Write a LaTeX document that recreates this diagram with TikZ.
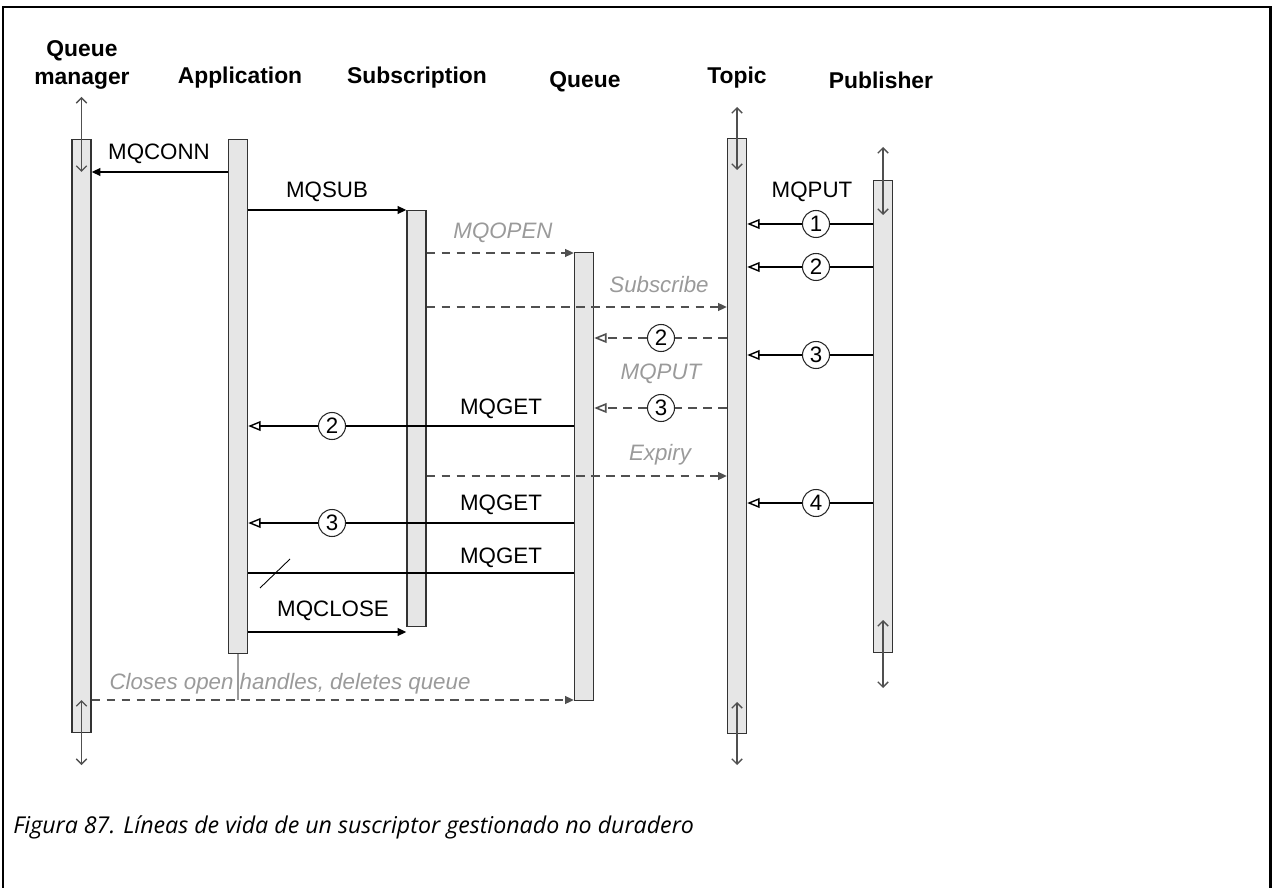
\documentclass[tikz,border=0pt]{standalone}
\usepackage{fontspec}
\setmainfont{Liberation Sans}
\newfontfamily\captionfont{Open Sans}
\usetikzlibrary{positioning}
\usetikzlibrary{arrows.meta}

\definecolor{barfill}{HTML}{E6E6E6}
\definecolor{linegray}{HTML}{505050}
\definecolor{textgray}{HTML}{9A9A9A}

\begin{document}
\begin{tikzpicture}[x=0.02cm, y=-0.02cm,
	barnode/.style={rectangle, draw=black!80, fill=barfill, line width=0.8pt, minimum width=0.38cm, inner sep=0pt, anchor=north},
	headnode/.style={font=\fontsize{13}{16}\selectfont\bfseries, anchor=base, inner sep=0pt, align=center},
	msgnode/.style={font=\fontsize{12.7}{15}\selectfont, anchor=base, inner sep=0pt},
	greynode/.style={font=\fontsize{12.7}{15}\selectfont\itshape, anchor=base, inner sep=0pt, text=textgray},
	numnode/.style={circle, draw=black!85, fill=white, line width=0.6pt, minimum size=0.54cm, inner sep=0pt, font=\fontsize{12.7}{15}\selectfont},
	call/.style={line width=0.8pt, -{Triangle[length=5pt,width=4.5pt]}},
	reply/.style={line width=0.8pt, -{Triangle[open,fill=white,length=7pt,width=5.5pt]}},
	plain/.style={line width=0.8pt},
	async/.style={line width=0.9pt, draw=linegray, dash pattern=on 5pt off 3.5pt},
	lifearrow/.style={line width=0.75pt, draw=linegray, {Straight Barb[length=3pt,width=6pt]}-{Straight Barb[length=3pt,width=6pt]}},
	]
	\useasboundingbox (0,0) rectangle (1274,888);

	% Frame
	\draw[line width=1.7pt] (3,888) -- (3,7) -- (1270,7) -- (1270,888);

	% Headings
	\node[headnode, anchor=north]          (qm_head)      at (82, 40)    {Queue\\manager};
	\node[headnode]                        (app_head)     at (240, 84)   {Application};
	\node[headnode]                        (sub_head)     at (417, 84)   {Subscription};
	\node[headnode]                        (queue_head)   at (585, 88)   {Queue};
	\node[headnode]                        (topic_head)   at (737, 84)   {Topic};
	\node[headnode]                        (pub_head)     at (881, 89)   {Publisher};

	% Bars
	\node[barnode, minimum height=11.86cm] (qm_bar)       at (81.5, 139) {};
	\node[barnode, minimum height=10.28cm] (app_bar)      at (238, 139)  {};
	\node[barnode, minimum height=8.32cm]  (sub_bar)      at (416.5, 210) {};
	\node[barnode, minimum height=8.96cm]  (queue_bar)    at (584, 252)  {};
	\node[barnode, minimum height=11.9cm]  (topic_bar)    at (737, 138)  {};
	\node[barnode, minimum height=9.44cm]  (pub_bar)      at (883, 180)  {};

	% Lifeline ends
	\coordinate (qm_top_a)    at (81.5, 97);
	\coordinate (qm_top_b)    at (81.5, 172);
	\coordinate (qm_bot_a)    at (81.5, 700);
	\coordinate (qm_bot_b)    at (81.5, 765);
	\coordinate (topic_top_a) at (737, 107);
	\coordinate (topic_top_b) at (737, 170);
	\coordinate (topic_bot_a) at (737, 702);
	\coordinate (topic_bot_b) at (737, 765);
	\coordinate (pub_top_a)   at (883, 147);
	\coordinate (pub_top_b)   at (883, 215);
	\coordinate (pub_bot_a)   at (883, 620);
	\coordinate (pub_bot_b)   at (883, 688);

	\draw[lifearrow] (qm_top_a)    -- (qm_top_b);
	\draw[lifearrow] (qm_bot_a)    -- (qm_bot_b);
	\draw[lifearrow] (topic_top_a) -- (topic_top_b);
	\draw[lifearrow] (topic_bot_a) -- (topic_bot_b);
	\draw[lifearrow] (pub_top_a)   -- (pub_top_b);
	\draw[lifearrow] (pub_bot_a)   -- (pub_bot_b);

	% Rows
	\coordinate (row_conn)   at (0, 172);
	\coordinate (row_sub)    at (0, 210);
	\coordinate (row_open)   at (0, 253);
	\coordinate (row_subs)   at (0, 307);
	\coordinate (row_expiry) at (0, 476);
	\coordinate (row_get)    at (0, 573);
	\coordinate (row_close)  at (0, 632);
	\coordinate (row_end)    at (0, 700);

	% Labels
	\node[msgnode]  (mqconn_label)   at (159, 160) {MQCONN};
	\node[msgnode]  (mqsub_label)    at (327, 198) {MQSUB};
	\node[greynode] (mqopen_label)   at (503, 239) {MQOPEN};
	\node[msgnode]  (mqput_label)    at (812, 198) {MQPUT};
	\node[greynode] (subscr_label)   at (659, 293) {Subscribe};
	\node[greynode] (mqput2_label)   at (661, 379) {MQPUT};
	\node[msgnode]  (mqget_label)    at (501, 414) {MQGET};
	\node[greynode] (expiry_label)   at (660, 460) {Expiry};
	\node[msgnode]  (mqget2_label)   at (501, 510) {MQGET};
	\node[msgnode]  (mqget3_label)   at (501, 563) {MQGET};
	\node[msgnode]  (mqclose_label)  at (333, 616) {MQCLOSE};
	\node[greynode] (closes_label)   at (290, 689) {Closes open handles, deletes queue};

	% Numbers
	\node[numnode] (put_one)    at (816, 224) {1};
	\node[numnode] (put_two)    at (816, 267) {2};
	\node[numnode] (put_three)  at (816, 355) {3};
	\node[numnode] (put_four)   at (816, 503) {4};
	\node[numnode] (fwd_two)    at (661, 338) {2};
	\node[numnode] (fwd_three)  at (661, 408) {3};
	\node[numnode] (get_two)    at (332, 426) {2};
	\node[numnode] (get_three)  at (332, 523) {3};

	% Lines
	\draw[call]   (app_bar.west |- row_conn)    -- (qm_bar.east |- row_conn);
	\draw[call]   (app_bar.east |- row_sub)     -- (sub_bar.west |- row_sub);
	\draw[async, -{Triangle[length=5pt,width=4.5pt]}] (sub_bar.east |- row_open) -- (queue_bar.west |- row_open);
	\draw[plain]  (pub_bar.west |- put_one)     -- (put_one.east);
	\draw[reply]  (put_one.west)                -- (topic_bar.east |- put_one);
	\draw[plain]  (pub_bar.west |- put_two)     -- (put_two.east);
	\draw[reply]  (put_two.west)                -- (topic_bar.east |- put_two);
	\draw[async, -{Triangle[length=5pt,width=4.5pt]}] (sub_bar.east |- row_subs) -- (topic_bar.west |- row_subs);
	\draw[async]  (topic_bar.west |- fwd_two)   -- (fwd_two.east);
	\draw[async, -{Triangle[open,fill=white,length=7pt,width=5.5pt]}] (fwd_two.west) -- (queue_bar.east |- fwd_two);
	\draw[plain]  (pub_bar.west |- put_three)   -- (put_three.east);
	\draw[reply]  (put_three.west)              -- (topic_bar.east |- put_three);
	\draw[async]  (topic_bar.west |- fwd_three) -- (fwd_three.east);
	\draw[async, -{Triangle[open,fill=white,length=7pt,width=5.5pt]}] (fwd_three.west) -- (queue_bar.east |- fwd_three);
	\draw[plain]  (queue_bar.west |- get_two)   -- (get_two.east);
	\draw[reply]  (get_two.west)                -- (app_bar.east |- get_two);
	\draw[async, -{Triangle[length=5pt,width=4.5pt]}] (sub_bar.east |- row_expiry) -- (topic_bar.west |- row_expiry);
	\draw[plain]  (pub_bar.west |- put_four)    -- (put_four.east);
	\draw[reply]  (put_four.west)               -- (topic_bar.east |- put_four);
	\draw[plain]  (queue_bar.west |- get_three) -- (get_three.east);
	\draw[reply]  (get_three.west)              -- (app_bar.east |- get_three);
	\draw[plain]  (queue_bar.west |- row_get)   -- (app_bar.east |- row_get);
	\draw[line width=0.5pt] (260, 588) -- (290, 559);
	\draw[call]   (app_bar.east |- row_close)   -- (sub_bar.west |- row_close);
	\draw[line width=0.8pt, draw=textgray] (app_bar.south) -- (app_bar.south |- row_end);
	\draw[async, -{Triangle[length=5pt,width=4.5pt]}] (qm_bar.east |- row_end) -- (queue_bar.west |- row_end);

	% Caption
	\node[anchor=base west, inner sep=0pt, font=\captionfont\itshape\fontsize{13.2}{16}\selectfont] (caption) at (13, 833) {Figura 87. Líneas de vida de un suscriptor gestionado no duradero};
\end{tikzpicture}
\end{document}
